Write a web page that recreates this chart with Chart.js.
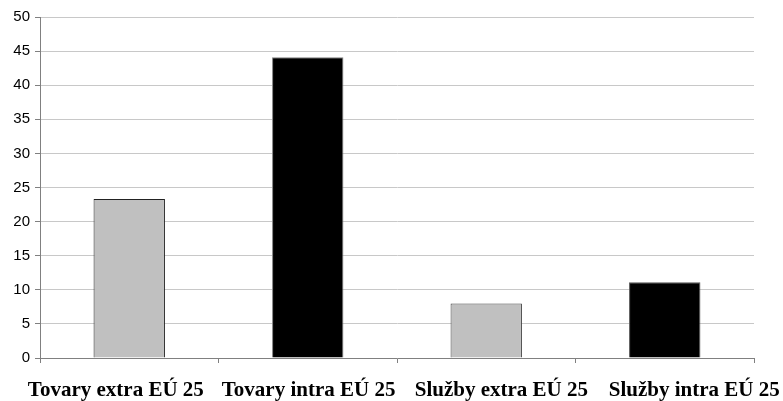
<!DOCTYPE html>
<html>
<head>
<meta charset="utf-8">
<script src="https://cdn.jsdelivr.net/npm/chart.js@4/dist/chart.umd.min.js"></script>
<style>
	html, body { margin: 0; padding: 0; background: #fff; }
	#wrap { width: 783px; height: 401px; }
</style>
</head>
<body>
<div id="wrap"><canvas id="chart"></canvas></div>
<script>
const categories = ['Tovary extra EÚ 25', 'Tovary intra EÚ 25', 'Služby extra EÚ 25', 'Služby intra EÚ 25'];
const values = [23.3, 44.1, 8.0, 11.1];
const barColors = ['#c0c0c0', '#000000', '#c0c0c0', '#000000'];
const barBorders = ['#222222', '#808080', '#444444', '#555555'];

// the category names in the original sit a bit wider apart than the bars
const spreadLabels = {
	id: 'spreadLabels',
	afterDraw(chart) {
		const x = chart.scales.x;
		const ctx = chart.ctx;
		const mid = (chart.chartArea.left + chart.chartArea.right) / 2 + 8;
		ctx.save();
		ctx.font = 'bold 21px "Liberation Serif", "Times New Roman", serif';
		ctx.fillStyle = '#000';
		ctx.textAlign = 'center';
		ctx.textBaseline = 'alphabetic';
		for (let i = 0; i < categories.length; i++) {
			const px = x.getPixelForTick(i);
			ctx.fillText(categories[i], mid + (px - mid + 8) * 1.08, x.top + 38);
		}
		ctx.restore();
	}
};

new Chart(document.getElementById('chart'), {
	type: 'bar',
	data: {
		labels: categories,
		datasets: [{
			data: values,
			backgroundColor: barColors,
			borderColor: barBorders,
			borderWidth: 1,
			borderSkipped: 'bottom',
			categoryPercentage: 0.8,
			barPercentage: 0.5
		}]
	},
	options: {
		responsive: true,
		maintainAspectRatio: false,
		animation: false,
		layout: { padding: { top: 17, right: 29, left: 0, bottom: 0 } },
		plugins: {
			legend: { display: false },
			tooltip: { enabled: false }
		},
		scales: {
			x: {
				offset: true,
				grid: {
					display: true,
					offset: true,
					drawOnChartArea: false,
					tickLength: 5,
					tickColor: '#808080'
				},
				border: { display: true, color: '#808080', width: 1 },
				ticks: { display: false },
				afterFit(scale) { scale.height = 43; }
			},
			y: {
				min: 0,
				max: 50,
				ticks: {
					stepSize: 5,
					color: '#000',
					padding: 5,
					font: { family: '"Liberation Sans", Arial, sans-serif', size: 15 }
				},
				grid: {
					color: '#c8c8c8',
					tickLength: 5,
					tickColor: '#808080'
				},
				border: { display: true, color: '#808080', width: 1 },
				afterFit(scale) { scale.width = 40; }
			}
		}
	},
	plugins: [spreadLabels]
});
</script>
</body>
</html>
